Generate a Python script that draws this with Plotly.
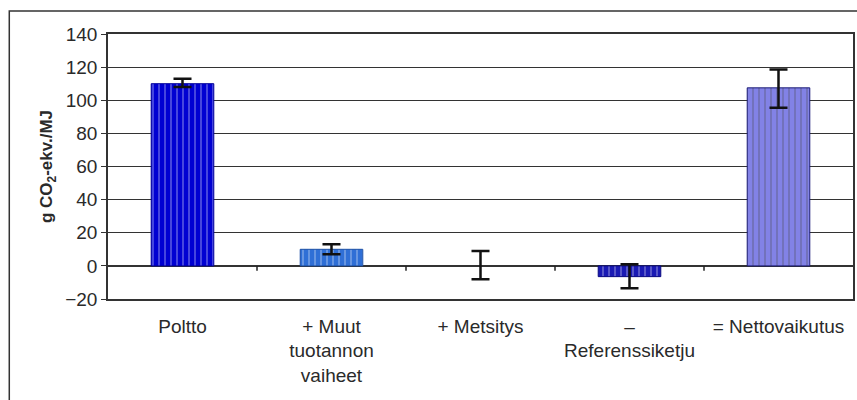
import plotly.graph_objects as go

categories = ["Poltto", "+ Muut<br>tuotannon<br>vaiheet", "+ Metsitys", "–<br>Referenssiketju", "= Nettovaikutus"]
values = [110, 10, 0, -6.5, 107.5]
err_plus = [3, 3, 9, 7.5, 11]
err_minus = [2, 3, 8, 7, 12]
fill_colors = ["#0000D2", "#2F6FD6", "#0000D2", "#1A1AB4", "#8282E6"]
line_colors = ["#00009A", "#1B4FA6", "#00009A", "#0A0A80", "#1C1C78"]
outline_widths = [1, 1, 0, 1, 1]
y_ticks = [-20, 0, 20, 40, 60, 80, 100, 120, 140]

FONT = "Arial, Liberation Sans, sans-serif"

fig = go.Figure()
fig.add_trace(go.Bar(
    x=categories,
    y=values,
    width=0.42,
    marker=dict(
        color=fill_colors,
        line=dict(color=line_colors, width=outline_widths),
        pattern=dict(shape="|", fgcolor=line_colors, size=6, solidity=0.18),
    ),
    error_y=dict(type="data", symmetric=False, array=err_plus, arrayminus=err_minus,
                 color="#111111", thickness=2.5, width=9),
    showlegend=False,
))

# category separator ticks on the zero line
for i in range(len(categories) - 1):
    fig.add_shape(type="line", xref="x", yref="y", x0=i + 0.5, x1=i + 0.5, y0=0, y1=-3,
                  line=dict(color="#222222", width=1.5))

# outer chart frame
fig.add_shape(type="rect", xref="paper", yref="paper",
              x0=-0.1325, x1=1.02, y0=-0.6, y1=1.0868,
              line=dict(color="#333333", width=1.5), fillcolor="rgba(0,0,0,0)", layer="below")

fig.update_layout(
    width=857, height=400,
    margin=dict(l=108, r=2, t=34, b=101),
    paper_bgcolor="white", plot_bgcolor="white",
    font=dict(family=FONT, size=19, color="#2a2a2a"),
    bargap=0.58,
)
fig.update_xaxes(
    showgrid=False, ticks="", showline=True, linecolor="#333333", linewidth=1.5,
    mirror=True, tickfont=dict(size=19), ticklabelstandoff=9,
)
fig.update_yaxes(
    range=[-20, 140], tickvals=y_ticks, showgrid=True, gridcolor="#333333", gridwidth=1.2,
    zeroline=True, zerolinecolor="#333333", zerolinewidth=1.5,
    showline=True, linecolor="#333333", linewidth=1.5, mirror=True,
    ticks="outside", ticklen=5, tickcolor="#333333", tickfont=dict(size=19),
    title=dict(text="<b>g CO<sub>2</sub>-ekv./MJ</b>", font=dict(size=17), standoff=8),
)

fig.write_html("out.html")
